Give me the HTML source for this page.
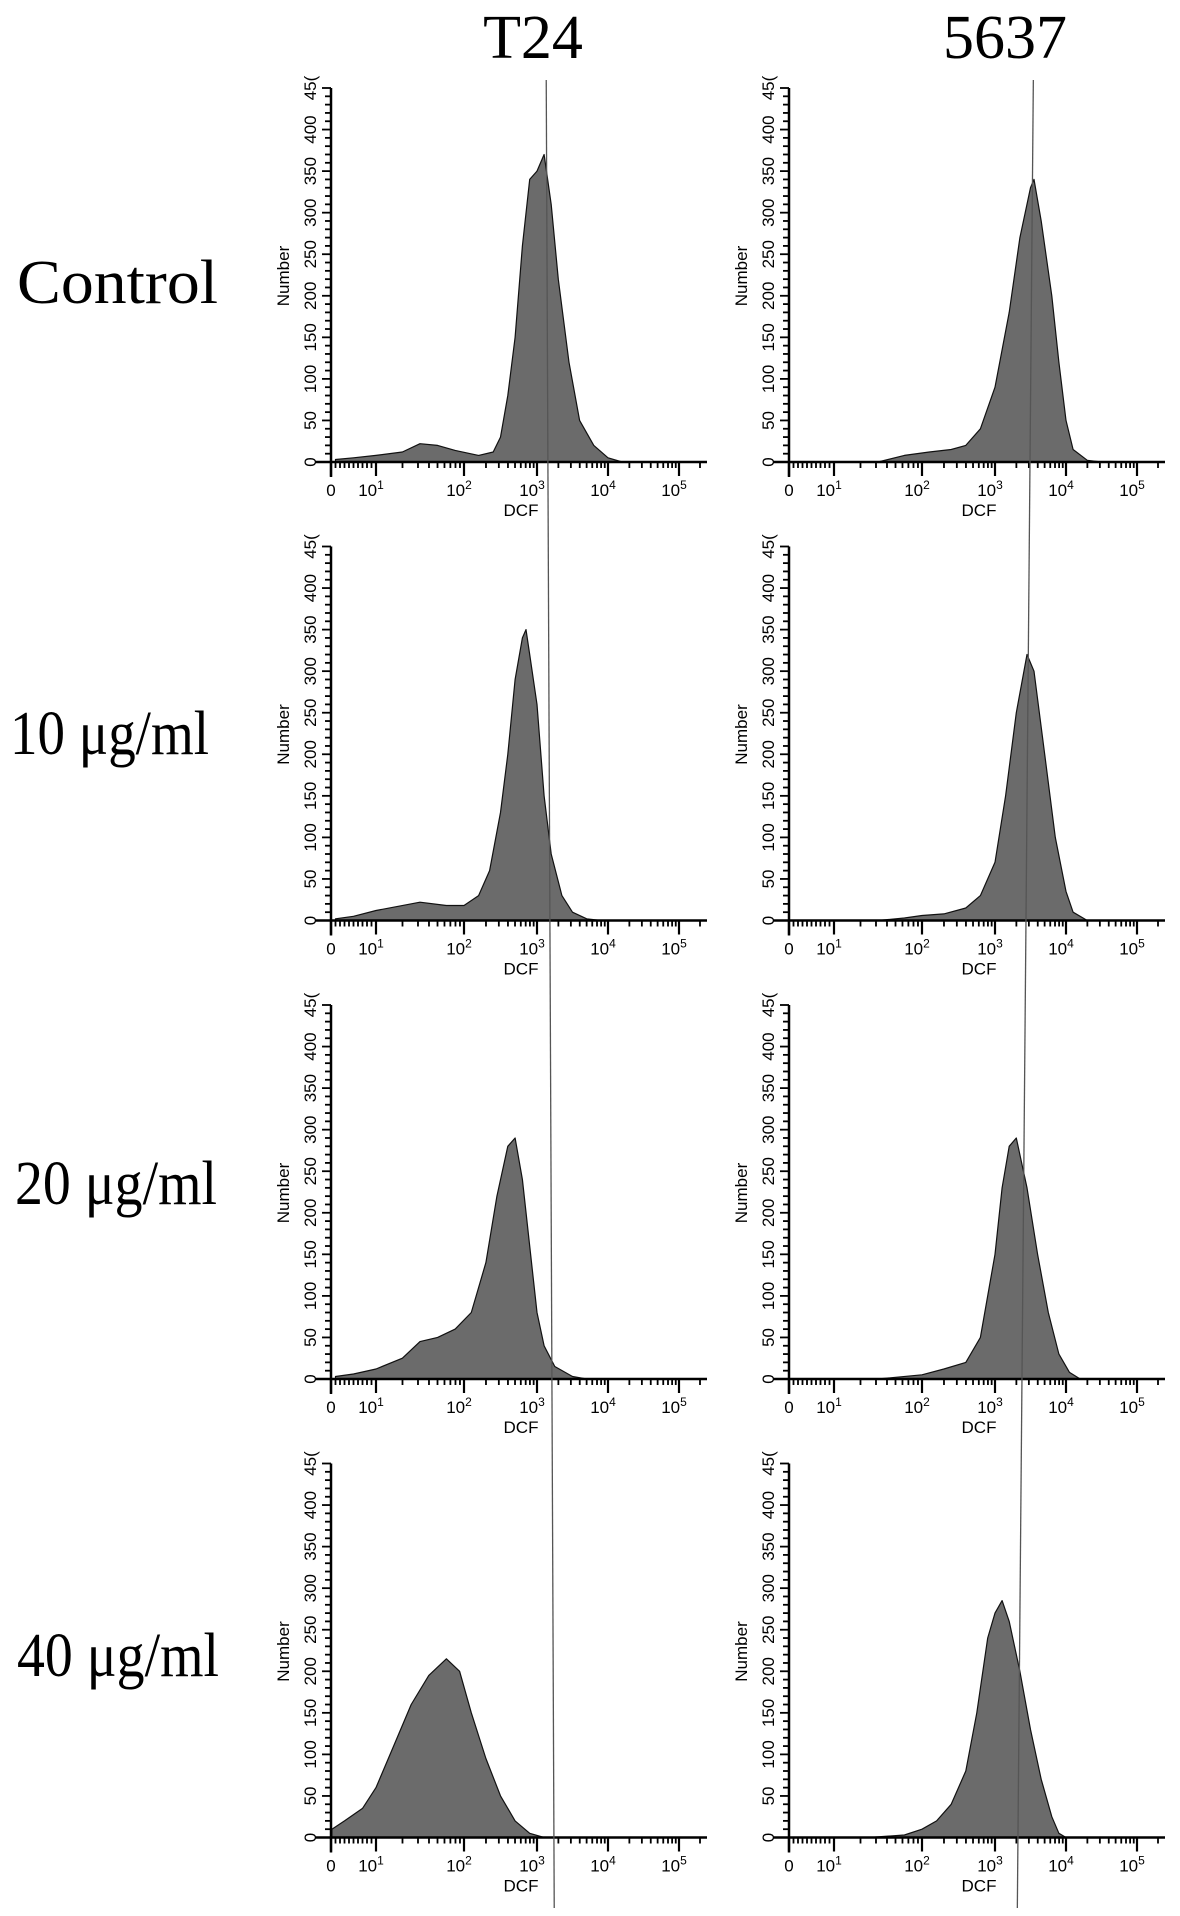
<!DOCTYPE html>
<html><head><meta charset="utf-8">
<style>
html,body{margin:0;padding:0;background:#fff;}
svg{display:block;}
text{font-family:"Liberation Serif",serif;fill:#000;}
.big{font-family:"Liberation Serif",serif;font-size:62px;}
#panels text{font-family:"Liberation Sans",sans-serif;}
</style></head>
<body>
<svg id="fig" width="1180" height="1916" viewBox="0 0 1180 1916" xmlns="http://www.w3.org/2000/svg">
<text class="big" x="533" y="58" text-anchor="middle">T24</text>
<text class="big" x="1005" y="58" text-anchor="middle">5637</text>
<text class="big" x="17" y="303" textLength="201" lengthAdjust="spacingAndGlyphs">Control</text>
<text class="big" x="10" y="754" textLength="199" lengthAdjust="spacingAndGlyphs">10 μg/ml</text>
<text class="big" x="15" y="1204" textLength="202" lengthAdjust="spacingAndGlyphs">20 μg/ml</text>
<text class="big" x="17" y="1676" textLength="202" lengthAdjust="spacingAndGlyphs">40 μg/ml</text>
<g id="panels"></g>
</svg>
<script>
// Histogram data: log10(DCF) positions and counts per panel
const t24ControlLog = [0.1,0.5,1,1.3,1.5,1.7,1.9,2.2,2.4,2.5,2.6,2.7,2.8,2.9,3.0,3.1,3.2,3.3,3.45,3.6,3.8,4.0,4.2];
const t24ControlCnt = [3,5,8,12,22,20,14,8,12,30,80,150,260,340,350,370,310,220,120,50,20,5,0];
const t24Dose10Log = [0.1,0.5,1,1.5,1.8,2,2.2,2.35,2.5,2.6,2.7,2.8,2.85,2.9,3.0,3.1,3.2,3.35,3.5,3.7,3.9];
const t24Dose10Cnt = [2,5,12,22,18,18,30,60,130,200,290,340,350,320,260,150,80,30,10,2,0];
const t24Dose20Log = [0.1,0.5,1,1.3,1.5,1.7,1.9,2.1,2.3,2.45,2.6,2.7,2.8,2.9,3.0,3.1,3.25,3.5,3.7];
const t24Dose20Cnt = [3,6,12,25,45,50,60,80,140,220,280,290,240,160,80,40,15,3,0];
const t24Dose40Log = [0.02,0.3,0.7,1,1.2,1.4,1.6,1.8,1.95,2.1,2.3,2.5,2.7,2.9,3.1];
const t24Dose40Cnt = [10,20,35,60,110,160,195,215,200,150,95,50,20,5,0];
const c5637ControlLog = [1.5,1.8,2.1,2.4,2.6,2.8,3.0,3.2,3.35,3.5,3.55,3.65,3.8,3.9,4.0,4.1,4.3,4.5];
const c5637ControlCnt = [0,8,12,15,20,40,90,180,270,330,340,290,200,120,50,15,2,0];
const c5637Dose10Log = [1.5,1.8,2,2.3,2.6,2.8,3.0,3.15,3.3,3.45,3.55,3.7,3.85,4.0,4.1,4.3];
const c5637Dose10Cnt = [0,3,6,8,15,30,70,150,250,320,300,200,100,35,10,0];
const c5637Dose20Log = [1.5,2.0,2.3,2.6,2.8,3.0,3.1,3.2,3.3,3.45,3.6,3.75,3.9,4.05,4.2];
const c5637Dose20Cnt = [0,5,12,20,50,150,230,280,290,230,150,80,30,8,0];
const c5637Dose40Log = [1.4,1.8,2.0,2.2,2.4,2.6,2.75,2.9,3.0,3.1,3.2,3.35,3.5,3.65,3.8,3.9,4.0];
const c5637Dose40Cnt = [0,3,10,20,40,80,150,240,270,285,260,200,130,70,25,5,0];
const yTicks = [0,50,100,150,200,250,300,350,400,450];
const xTickLabels = ["0","10","10","10","10","10"];
const xTickExp = ["","1","2","3","4","5"];
const gateLog = [3.13, 3.54];

const panels = [
 {col:0,row:0,name:'t24-control',l:t24ControlLog,c:t24ControlCnt},
 {col:0,row:1,name:'t24-10ug',l:t24Dose10Log,c:t24Dose10Cnt},
 {col:0,row:2,name:'t24-20ug',l:t24Dose20Log,c:t24Dose20Cnt},
 {col:0,row:3,name:'t24-40ug',l:t24Dose40Log,c:t24Dose40Cnt},
 {col:1,row:0,name:'5637-control',l:c5637ControlLog,c:c5637ControlCnt},
 {col:1,row:1,name:'5637-10ug',l:c5637Dose10Log,c:c5637Dose10Cnt},
 {col:1,row:2,name:'5637-20ug',l:c5637Dose20Log,c:c5637Dose20Cnt},
 {col:1,row:3,name:'5637-40ug',l:c5637Dose40Log,c:c5637Dose40Cnt},
];
const NS='http://www.w3.org/2000/svg';
const root=document.getElementById('panels');
const decPx=[0,45,133,206,277,348];
function xPos(l){ if(l<=0) return 0; if(l>=5) return decPx[5]+(l-5)*71;
  const i=Math.floor(l); return decPx[i]+(l-i)*(decPx[i+1]-decPx[i]); }
const yScale=374/450;
function mk(tag,attrs,parent){const e=document.createElementNS(NS,tag);for(const k in attrs)e.setAttribute(k,attrs[k]);parent.appendChild(e);return e;}

panels.forEach(p=>{
  const ox=331+p.col*458, oy=462+p.row*458.5;
  const g=mk('g',{},root);
  
  
  let d='M'+(ox+xPos(p.l[0]))+','+oy;
  p.l.forEach((l,i)=>{d+=' L'+(ox+xPos(l)).toFixed(1)+','+(oy-p.c[i]*yScale).toFixed(1);});
  d+=' L'+(ox+xPos(p.l[p.l.length-1]))+','+oy+' Z';
  const h=mk('path',{d:d,fill:'#6b6b6b',stroke:'#111','stroke-width':1.2,'stroke-linejoin':'round'},g);
  
  
  mk('line',{x1:ox-16,y1:oy,x2:ox+376,y2:oy,stroke:'#000','stroke-width':2.5},g);
  mk('line',{x1:ox,y1:oy+15,x2:ox,y2:oy-374,stroke:'#000','stroke-width':2.5},g);
  for(let v=0;v<=450;v+=10){
    const y=oy-v*yScale, major=v%50===0;
    mk('line',{x1:ox-(major?9:6),y1:y,x2:ox,y2:y,stroke:'#000','stroke-width':1.8},g);
  }
  yTicks.forEach(v=>{
    const y=oy-v*yScale;
    const t=mk('text',{x:0,y:0,'font-size':17,'text-anchor':'middle',transform:`translate(${ox-15},${y}) rotate(-90)`},g);
    t.textContent=v===450?'45(':String(v);
    
    
  });
  const yt=mk('text',{x:0,y:0,'font-size':17,'text-anchor':'middle',transform:`translate(${ox-42},${oy-186}) rotate(-90)`},g);
  yt.textContent='Number';
  
  
  for(let dIdx=1; dIdx<5; dIdx++){
    for(let m=2;m<=9;m++){
      const x=ox+xPos(dIdx+Math.log10(m));
      mk('line',{x1:x,y1:oy,x2:x,y2:oy+6,stroke:'#000','stroke-width':1.8},g);
    }
  }
  for(let k=1;k<=9;k++){ const x=ox+k*4.5; mk('line',{x1:x,y1:oy,x2:x,y2:oy+6,stroke:'#000','stroke-width':1.8},g); }
  mk('line',{x1:ox+369,y1:oy,x2:ox+369,y2:oy+6,stroke:'#000','stroke-width':1.8},g);
  for(let i=0;i<=5;i++){
    const x=ox+decPx[i];
    mk('line',{x1:x,y1:oy,x2:x,y2:oy+14,stroke:'#000','stroke-width':2.2},g);
    const t=mk('text',{x:x-(i===0?0:5),y:oy+34,'font-size':17,'text-anchor':'middle'},g);
    t.textContent=xTickLabels[i];
    if(xTickExp[i]){const s=mk('tspan',{dy:-7,'font-size':12},t);s.textContent=xTickExp[i];}
    
    
  }
  const xt=mk('text',{x:ox+190,y:oy+54,'font-size':17,'text-anchor':'middle'},g);
  xt.textContent='DCF';
  
  
});
[0,1].forEach(c=>{
  const ox=331+c*458;
  const x1=ox+xPos(gateLog[c]);
  const x2=x1+(c===0?8:-16);
  const ln=mk('line',{x1:x1,y1:80,x2:x2,y2:1908,stroke:'#555','stroke-width':1.3},root);
  
  
});
</script>
</body></html>
